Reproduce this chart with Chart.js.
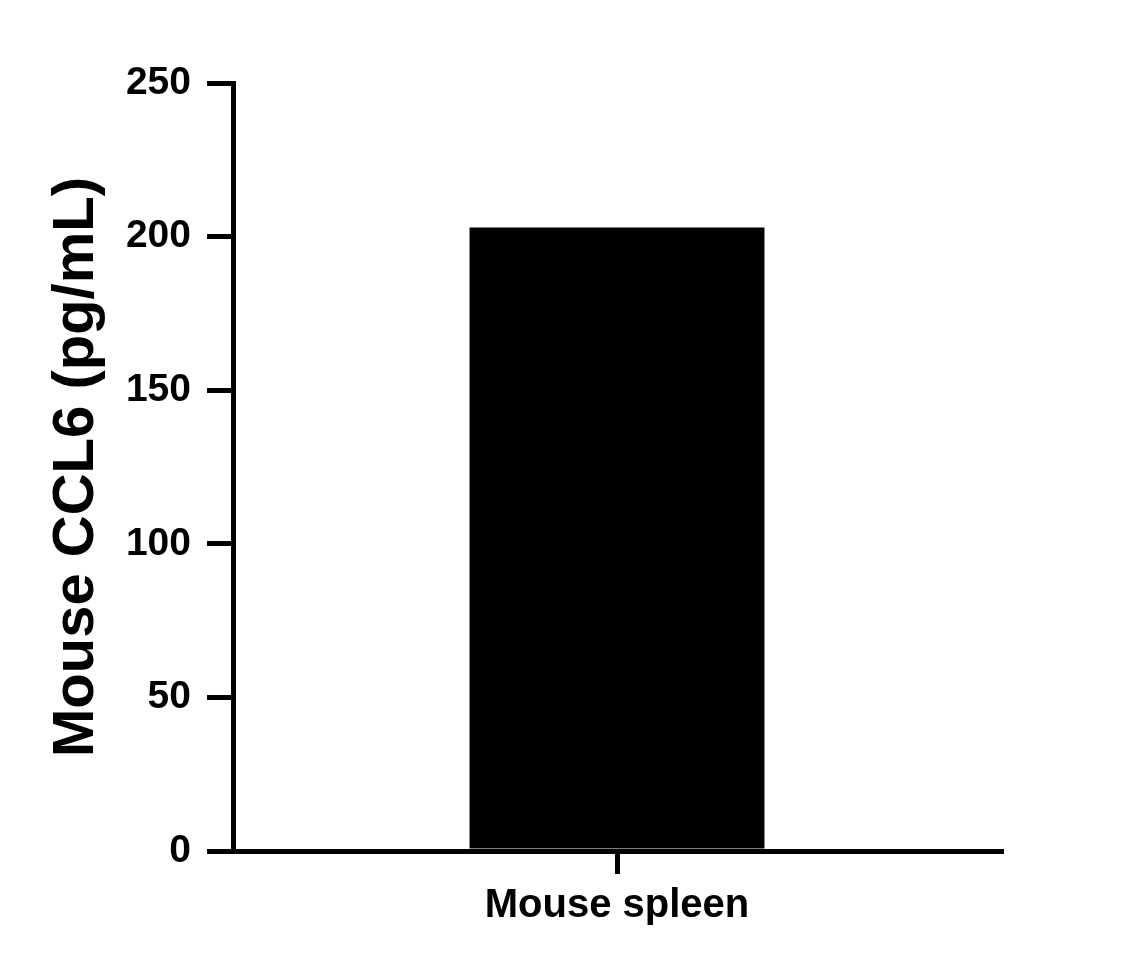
<!DOCTYPE html>
<html>
<head>
<meta charset="utf-8">
<script src="https://cdn.jsdelivr.net/npm/chart.js@4"></script>
<style>
  body { margin: 0; background: #fff; }
  #chart { display: block; }
</style>
</head>
<body>
<canvas id="chart" width="1138" height="967"></canvas>
<script>
let categories = ['Mouse spleen'];
let values = [203];
let yTicks = [0, 50, 100, 150, 200, 250];
let yTitle = 'Mouse CCL6 (pg/mL)';

let fontFamily = "'Liberation Sans', Arial, Helvetica, sans-serif";

let ctx = document.getElementById('chart').getContext('2d');

let chart = new Chart(ctx, {
    type: 'bar',
    data: {
        labels: categories,
        datasets: [{
            data: values,
            backgroundColor: '#000000',
            borderWidth: 0,
            categoryPercentage: 1,
            barPercentage: 0.384
        }]
    },
    options: {
        responsive: false,
        animation: false,
        layout: {
            padding: { left: 0, top: 83, right: 137, bottom: 0 }
        },
        plugins: {
            legend: { display: false },
            tooltip: { enabled: false }
        },
        scales: {
            x: {
                grid: {
                    offset: false,
                    drawOnChartArea: false,
                    tickLength: 23,
                    tickWidth: 5,
                    tickColor: '#000',
                    lineWidth: 5,
                    color: '#000'
                },
                border: { display: true, color: '#000', width: 5 },
                ticks: {
                    color: '#000',
                    padding: 8,
                    font: { family: fontFamily, size: 40, weight: 'bold' }
                },
                afterFit: (scale) => { scale.height = 116; }
            },
            y: {
                min: 0,
                max: 250,
                afterBuildTicks: (scale) => {
                    scale.ticks = yTicks.map(v => ({ value: v }));
                },
                grid: {
                    drawOnChartArea: false,
                    tickLength: 26,
                    tickWidth: 5,
                    tickColor: '#000',
                    lineWidth: 5,
                    color: '#000'
                },
                border: { display: true, color: '#000', width: 5 },
                ticks: {
                    color: '#000',
                    padding: 16,
                    font: { family: fontFamily, size: 39, weight: 'bold' }
                },
                title: {
                    display: true,
                    text: yTitle,
                    color: '#000',
                    padding: { top: 42, bottom: 0 },
                    font: { family: fontFamily, size: 58, weight: 'bold' }
                },
                afterFit: (scale) => { scale.width = 233; }
            }
        }
    }
});
</script>
</body>
</html>
